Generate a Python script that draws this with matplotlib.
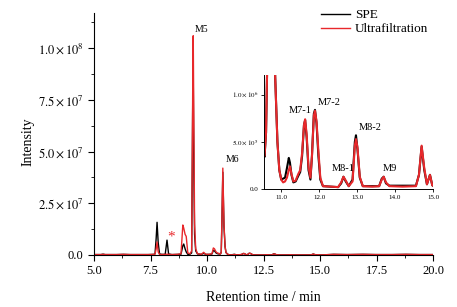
import matplotlib.pyplot as plt
from matplotlib.ticker import MultipleLocator, FuncFormatter

plt.rcParams['font.family'] = ['Liberation Serif', 'DejaVu Serif']
plt.rcParams['mathtext.fontset'] = 'stix'

# retention time (min) and intensities
t = [5.0, 5.3, 5.4, 5.5, 6.0, 6.3, 6.6, 7.0, 7.4, 7.65,
     7.70, 7.75, 7.79, 7.84, 7.90, 8.0, 8.15, 8.23, 8.30, 8.45,
     8.70, 8.85, 8.93, 8.97, 9.03, 9.08, 9.15, 9.25, 9.32, 9.35,
     9.38, 9.39, 9.42, 9.45, 9.50, 9.58, 9.75, 9.85, 9.95, 10.1,
     10.22, 10.28, 10.33, 10.40, 10.47, 10.53, 10.56, 10.60, 10.63, 10.66,
     10.70, 10.75, 10.80, 10.84, 10.90, 10.95, 11.00, 11.05, 11.10, 11.15,
     11.20, 11.23, 11.27, 11.32, 11.38, 11.45, 11.50, 11.55, 11.60, 11.63,
     11.67, 11.72, 11.77, 11.81, 11.86, 11.89, 11.93, 11.98, 12.03, 12.10,
     12.30, 12.50, 12.58, 12.64, 12.70, 12.78, 12.88, 12.94, 12.97, 13.01,
     13.07, 13.15, 13.40, 13.58, 13.65, 13.70, 13.76, 13.85, 14.20, 14.55,
     14.63, 14.70, 14.77, 14.84, 14.92, 14.98, 15.05, 15.6, 16.2, 16.9,
     17.5, 18.2, 18.8, 19.4, 20.0]

spe = [0.2e6, 0.2e6, 0.4e6, 0.2e6, 0.2e6, 0.3e6, 0.2e6, 0.2e6, 0.2e6, 0.3e6,
       0.6e6, 8.0e6, 1.58e7, 6.0e6, 0.5e6, 0.3e6, 0.3e6, 7.2e6, 0.5e6, 0.2e6,
       0.3e6, 0.4e6, 4.5e6, 5.3e6, 3.0e6, 1.5e6, 0.3e6, 0.4e6, 1.0e6, 4.5e7,
       9.4e7, 8.8e7, 4.0e7, 1.0e7, 2.0e6, 0.5e6, 0.3e6, 0.8e6, 0.3e6, 0.3e6,
       0.5e6, 2.2e6, 2.0e6, 1.0e6, 0.6e6, 5.0e5, 3.4e5, 6.0e5, 1.3e6, 1.6e7,
       4.0e7, 1.4e7, 4.0e6, 1.2e6, 5.0e5, 2.0e5, 1.0e5, 1.1e5, 1.2e5, 2.2e5,
       3.3e5, 2.8e5, 1.5e5, 0.7e5, 0.8e5, 1.4e5, 1.8e5, 3.5e5, 6.8e5, 7.3e5,
       5.5e5, 2.0e5, 1.0e5, 3.5e5, 8.0e5, 8.4e5, 7.0e5, 3.5e5, 1.0e5, 0.3e5,
       0.25e5, 0.2e5, 0.6e5, 1.3e5, 0.8e5, 0.3e5, 1.0e5, 5.0e5, 5.7e5, 4.2e5,
       1.2e5, 0.3e5, 0.3e5, 0.3e5, 1.1e5, 1.3e5, 0.6e5, 0.35e5, 0.35e5, 0.35e5,
       1.5e5, 4.5e5, 2.0e5, 0.5e5, 1.5e5, 0.4e5, 0.2e5, 0.3e6, 0.2e6, 0.3e6,
       0.2e6, 0.2e6, 0.3e6, 0.2e6, 0.2e6]

ultra = [0.2e6, 0.2e6, 0.3e6, 0.2e6, 0.2e6, 0.3e6, 0.2e6, 0.2e6, 0.2e6, 0.3e6,
         0.4e6, 3.0e6, 6.3e6, 1.5e6, 0.3e6, 0.2e6, 0.3e6, 0.4e6, 0.3e6, 0.2e6,
         0.3e6, 0.6e6, 1.45e7, 1.3e7, 1.0e7, 9.0e6, 1.0e6, 0.6e6, 2.0e6, 5.0e7,
         1.02e8, 1.06e8, 6.0e7, 1.5e7, 3.0e6, 0.6e6, 0.3e6, 1.3e6, 0.3e6, 0.3e6,
         0.6e6, 3.4e6, 3.0e6, 1.5e6, 0.9e6, 8.0e5, 3.5e5, 6.0e5, 1.3e6, 1.7e7,
         4.2e7, 1.5e7, 4.0e6, 1.2e6, 5.0e5, 2.0e5, 1.0e5, 0.7e5, 0.8e5, 1.2e5,
         2.0e5, 2.4e5, 1.6e5, 0.8e5, 0.9e5, 1.6e5, 2.0e5, 3.8e5, 6.8e5, 7.4e5,
         5.8e5, 2.3e5, 1.2e5, 3.5e5, 7.8e5, 8.3e5, 7.2e5, 4.0e5, 1.2e5, 0.3e5,
         0.25e5, 0.2e5, 0.7e5, 1.3e5, 0.9e5, 0.3e5, 0.8e5, 4.6e5, 5.3e5, 4.4e5,
         1.3e5, 0.3e5, 0.25e5, 0.3e5, 1.0e5, 1.3e5, 0.7e5, 0.3e5, 0.25e5, 0.3e5,
         1.5e5, 4.6e5, 2.2e5, 0.5e5, 1.5e5, 0.4e5, 0.2e5, 0.3e6, 0.2e6, 0.3e6,
         0.2e6, 0.2e6, 0.3e6, 0.2e6, 0.2e6]

peak_labels = ['M7-1', 'M7-2', 'M8-1', 'M8-2', 'M9']
peak_pos = [(11.50, 7.9e5, 'center'), (11.95, 8.7e5, 'left'), (12.32, 1.7e5, 'left'),
            (13.03, 6.1e5, 'left'), (13.68, 1.7e5, 'left')]

red = '#e8282b'


def sci(v, pos):
    if v == 0:
        return '0.0'
    e = 0
    m = v
    while abs(m) >= 10:
        m /= 10.0
        e += 1
    return r'$%.1f\times10^{%d}$' % (m, e)


fig = plt.figure(figsize=(4.57, 3.07), dpi=100)
ax = fig.add_axes([0.2057, 0.1694, 0.7418, 0.7883])
ax.spines["top"].set_visible(False)
ax.spines["right"].set_visible(False)

ax.plot(t, spe, color='black', lw=1.0, label='SPE')
ax.plot(t, ultra, color=red, lw=1.0, label='Ultrafiltration')

ax.set_xlim(5, 20)
ax.set_ylim(0, 1.17e8)
ax.xaxis.set_major_locator(MultipleLocator(2.5))
ax.xaxis.set_minor_locator(MultipleLocator(1.25))
ax.yaxis.set_major_locator(MultipleLocator(2.5e7))
ax.yaxis.set_minor_locator(MultipleLocator(1.25e7))
ax.xaxis.set_major_formatter(FuncFormatter(lambda v, p: '%.1f' % v))
ax.yaxis.set_major_formatter(FuncFormatter(sci))
ax.tick_params(which='major', direction='out', length=4, labelsize=9)
ax.tick_params(which='minor', direction='out', length=2)

ax.set_xlabel('Retention time / min', fontsize=10)
ax.set_ylabel('Intensity', fontsize=10)
ax.xaxis.set_label_coords(0.5, -0.15)
ax.yaxis.set_label_coords(-0.176, 0.47)

ax.text(9.47, 1.07e8, 'M5', fontsize=7, va='bottom')
ax.text(10.84, 4.4e7, 'M6', fontsize=7, va='bottom')
ax.text(8.41, 8.7e6, '*', fontsize=11, color=red, ha='center', va='center')

ax.legend(loc='upper left', bbox_to_anchor=(0.69, 0.988), bbox_transform=fig.transFigure,
          frameon=False, fontsize=9.5, handlelength=2.2, handletextpad=0.4,
          labelspacing=0.15, borderaxespad=0)

# inset zoom on 10.5 - 15 min
ins = fig.add_axes([0.578, 0.3844, 0.3695, 0.3713])
ins.spines["top"].set_visible(False)
ins.spines["right"].set_visible(False)
ins.plot(t, spe, color='black', lw=1.5)
ins.plot(t, ultra, color=red, lw=1.5)
ins.set_xlim(10.55, 15.0)
ins.set_ylim(0, 1.21e6)
ins.xaxis.set_major_locator(MultipleLocator(1.0))
ins.yaxis.set_major_locator(MultipleLocator(5e5))
ins.xaxis.set_major_formatter(FuncFormatter(lambda v, p: '%.1f' % v))
ins.yaxis.set_major_formatter(FuncFormatter(sci))
ins.tick_params(direction='out', length=2.5, labelsize=5, pad=1.5, width=0.6)
for s in ins.spines.values():
    s.set_linewidth(0.7)

for name, (x, y, ha) in zip(peak_labels, peak_pos):
    ins.text(x, y, name, fontsize=7.5, ha=ha, va='bottom')

plt.savefig('out.png', dpi=100)
